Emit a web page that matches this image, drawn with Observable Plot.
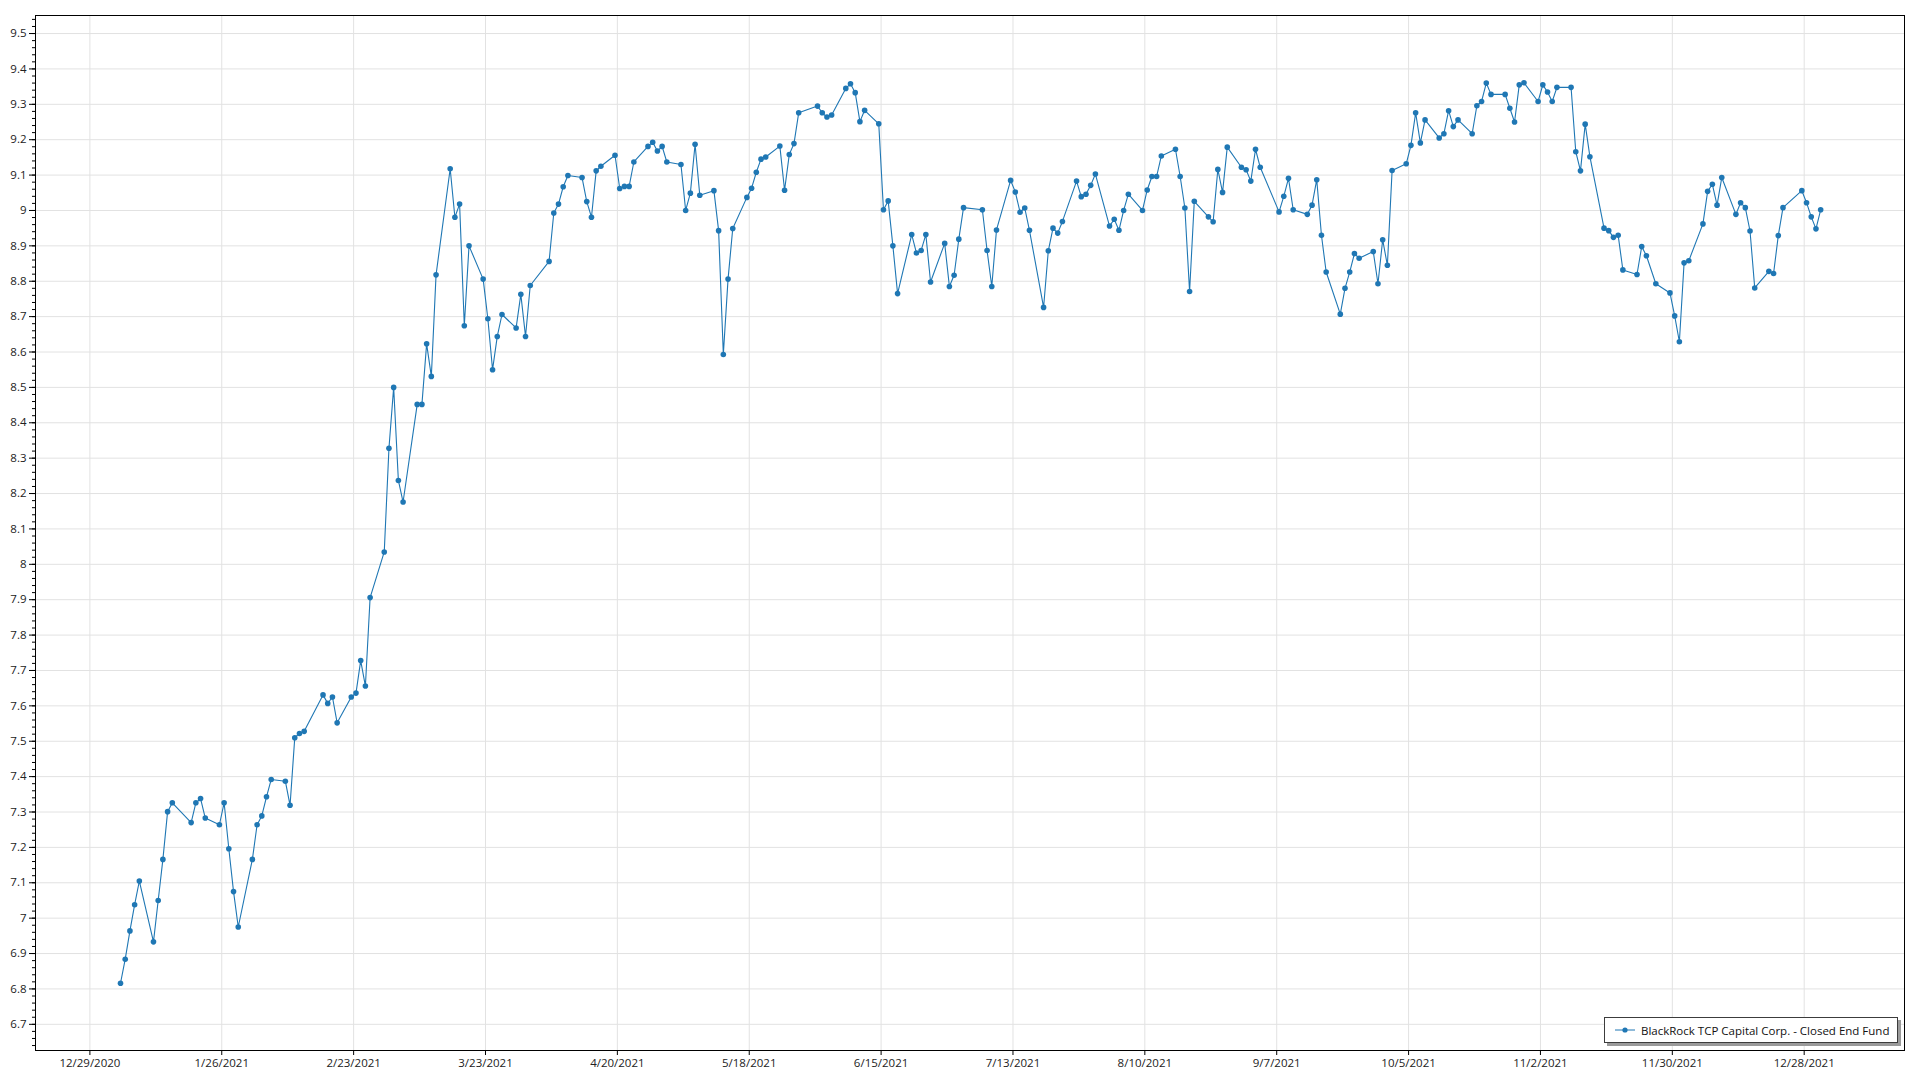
<!DOCTYPE html>
<html>
<head>
<meta charset="utf-8">
<script src="https://cdn.jsdelivr.net/npm/d3@7"></script>
<script src="https://cdn.jsdelivr.net/npm/@observablehq/plot@0.6"></script>
<style>
html, body { margin: 0; padding: 0; background: #fff; }
#wrap { position: relative; width: 1920px; height: 1080px; overflow: hidden; }
#legend {
  position: absolute; left: 1604px; top: 1017px; width: 294px; height: 26px;
  box-sizing: border-box; border: 1px solid #3c3c3c; background: #fff;
  box-shadow: 3px 3px 0 #9a9a9a; display: flex; align-items: center;
  font: 11.5px "Open Sans", sans-serif; color: #111; white-space: nowrap;
}
#legend svg { margin-left: 10px; margin-right: 6px; }
</style>
</head>
<body>
<div id="wrap"></div>
<script>
const seriesName = "BlackRock TCP Capital Corp. - Closed End Fund";

const dates = [
  "2021-01-04","2021-01-05","2021-01-06","2021-01-07","2021-01-08","2021-01-11","2021-01-12","2021-01-13","2021-01-14","2021-01-15",
  "2021-01-19","2021-01-20","2021-01-21","2021-01-22","2021-01-25","2021-01-26","2021-01-27","2021-01-28","2021-01-29",
  "2021-02-01","2021-02-02","2021-02-03","2021-02-04","2021-02-05","2021-02-08","2021-02-09","2021-02-10","2021-02-11","2021-02-12",
  "2021-02-16","2021-02-17","2021-02-18","2021-02-19","2021-02-22","2021-02-23","2021-02-24","2021-02-25","2021-02-26",
  "2021-03-01","2021-03-02","2021-03-03","2021-03-04","2021-03-05","2021-03-08","2021-03-09","2021-03-10","2021-03-11","2021-03-12",
  "2021-03-15","2021-03-16","2021-03-17","2021-03-18","2021-03-19","2021-03-22","2021-03-23","2021-03-24","2021-03-25","2021-03-26",
  "2021-03-29","2021-03-30","2021-03-31","2021-04-01",
  "2021-04-05","2021-04-06","2021-04-07","2021-04-08","2021-04-09","2021-04-12","2021-04-13","2021-04-14","2021-04-15","2021-04-16",
  "2021-04-19","2021-04-20","2021-04-21","2021-04-22","2021-04-23","2021-04-26","2021-04-27","2021-04-28","2021-04-29","2021-04-30",
  "2021-05-03","2021-05-04","2021-05-05","2021-05-06","2021-05-07","2021-05-10","2021-05-11","2021-05-12","2021-05-13","2021-05-14",
  "2021-05-17","2021-05-18","2021-05-19","2021-05-20","2021-05-21","2021-05-24","2021-05-25","2021-05-26","2021-05-27","2021-05-28",
  "2021-06-01","2021-06-02","2021-06-03","2021-06-04","2021-06-07","2021-06-08","2021-06-09","2021-06-10","2021-06-11",
  "2021-06-14","2021-06-15","2021-06-16","2021-06-17","2021-06-18","2021-06-21","2021-06-22","2021-06-23","2021-06-24","2021-06-25",
  "2021-06-28","2021-06-29","2021-06-30","2021-07-01","2021-07-02",
  "2021-07-06","2021-07-07","2021-07-08","2021-07-09","2021-07-12","2021-07-13","2021-07-14","2021-07-15","2021-07-16",
  "2021-07-19","2021-07-20","2021-07-21","2021-07-22","2021-07-23","2021-07-26","2021-07-27","2021-07-28","2021-07-29","2021-07-30",
  "2021-08-02","2021-08-03","2021-08-04","2021-08-05","2021-08-06","2021-08-09","2021-08-10","2021-08-11","2021-08-12","2021-08-13",
  "2021-08-16","2021-08-17","2021-08-18","2021-08-19","2021-08-20","2021-08-23","2021-08-24","2021-08-25","2021-08-26","2021-08-27",
  "2021-08-30","2021-08-31","2021-09-01","2021-09-02","2021-09-03",
  "2021-09-07","2021-09-08","2021-09-09","2021-09-10","2021-09-13","2021-09-14","2021-09-15","2021-09-16","2021-09-17",
  "2021-09-20","2021-09-21","2021-09-22","2021-09-23","2021-09-24","2021-09-27","2021-09-28","2021-09-29","2021-09-30","2021-10-01",
  "2021-10-04","2021-10-05","2021-10-06","2021-10-07","2021-10-08","2021-10-11","2021-10-12","2021-10-13","2021-10-14","2021-10-15",
  "2021-10-18","2021-10-19","2021-10-20","2021-10-21","2021-10-22","2021-10-25","2021-10-26","2021-10-27","2021-10-28","2021-10-29",
  "2021-11-01","2021-11-02","2021-11-03","2021-11-04","2021-11-05","2021-11-08","2021-11-09","2021-11-10","2021-11-11","2021-11-12",
  "2021-11-15","2021-11-16","2021-11-17","2021-11-18","2021-11-19","2021-11-22","2021-11-23","2021-11-24","2021-11-26",
  "2021-11-29","2021-11-30","2021-12-01","2021-12-02","2021-12-03","2021-12-06","2021-12-07","2021-12-08","2021-12-09","2021-12-10",
  "2021-12-13","2021-12-14","2021-12-15","2021-12-16","2021-12-17","2021-12-20","2021-12-21","2021-12-22","2021-12-23",
  "2021-12-27","2021-12-28","2021-12-29","2021-12-30","2021-12-31"
];

const prices = [
  6.816,6.884,6.964,7.038,7.105,6.933,7.050,7.166,7.301,7.326,
  7.270,7.326,7.338,7.283,7.264,7.326,7.196,7.075,6.975,
  7.166,7.264,7.289,7.343,7.392,7.387,7.319,7.510,7.522,7.528,
  7.631,7.607,7.625,7.552,7.625,7.636,7.728,7.656,7.906,
  8.035,8.328,8.500,8.237,8.176,8.452,8.452,8.623,8.531,8.818,
  9.118,8.981,9.018,8.674,8.900,8.806,8.694,8.550,8.644,8.706,
  8.668,8.763,8.644,8.788,
  8.856,8.993,9.018,9.067,9.099,9.093,9.025,8.981,9.112,9.125,
  9.156,9.062,9.068,9.068,9.137,9.181,9.193,9.168,9.181,9.137,
  9.130,9.000,9.049,9.187,9.043,9.056,8.943,8.593,8.806,8.949,
  9.037,9.063,9.108,9.145,9.151,9.182,9.057,9.158,9.189,9.276,
  9.295,9.276,9.264,9.270,9.345,9.358,9.333,9.251,9.283,
  9.245,9.002,9.027,8.900,8.765,8.932,8.880,8.887,8.932,8.798,
  8.907,8.785,8.817,8.919,9.008,
  9.002,8.887,8.785,8.945,9.085,9.052,8.995,9.007,8.944,
  8.726,8.886,8.950,8.936,8.969,9.083,9.039,9.046,9.071,9.103,
  8.956,8.975,8.944,9.000,9.046,9.000,9.058,9.096,9.096,9.154,
  9.173,9.096,9.007,8.771,9.026,8.982,8.968,9.116,9.051,9.179,
  9.122,9.115,9.083,9.173,9.122,
  8.996,9.040,9.091,9.002,8.989,9.015,9.087,8.930,8.826,
  8.707,8.780,8.826,8.878,8.865,8.884,8.793,8.917,8.845,9.113,
  9.132,9.184,9.276,9.191,9.256,9.205,9.217,9.282,9.237,9.256,
  9.217,9.296,9.308,9.360,9.328,9.328,9.289,9.250,9.355,9.361,
  9.308,9.355,9.335,9.308,9.348,9.348,9.166,9.112,9.244,9.152,
  8.950,8.943,8.924,8.930,8.832,8.819,8.898,8.872,8.793,
  8.767,8.702,8.629,8.852,8.858,8.962,9.054,9.074,9.015,9.093,
  8.989,9.022,9.008,8.942,8.781,8.828,8.822,8.929,9.008,
  9.056,9.022,8.982,8.948,9.002
];

const xTickDates = ["2020-12-29","2021-01-26","2021-02-23","2021-03-23","2021-04-20","2021-05-18","2021-06-15",
  "2021-07-13","2021-08-10","2021-09-07","2021-10-05","2021-11-02","2021-11-30","2021-12-28"];

const yTickValues = [6.7,6.8,6.9,7,7.1,7.2,7.3,7.4,7.5,7.6,7.7,7.8,7.9,8,8.1,8.2,8.3,8.4,8.5,8.6,8.7,8.8,8.9,9,9.1,9.2,9.3,9.4,9.5];

const data = dates.map((d, i) => ({date: new Date(d + "T12:00:00Z"), price: prices[i]}));
const xTicks = xTickDates.map(d => new Date(d + "T00:00:00Z"));
const yMinor = d3.range(0, 146).map(i => +(6.64 + i * 0.02).toFixed(2));

const DAY = 864e5, t0 = Date.UTC(2020, 11, 29);
const color = "#1f77b4";

const chart = Plot.plot({
  width: 1920,
  height: 1080,
  marginLeft: 35,
  marginRight: 16,
  marginTop: 15,
  marginBottom: 30,
  style: {fontFamily: '"Open Sans", sans-serif', fontSize: "11.5px", color: "#222", background: "#fff", overflow: "visible"},
  x: {type: "utc", domain: [new Date(t0 - 11.55 * DAY), new Date(t0 + 385.3 * DAY)]},
  y: {domain: [6.626, 9.551]},
  marks: [
    Plot.gridX(xTicks, {stroke: "#e2e2e2", strokeOpacity: 1}),
    Plot.gridY(yTickValues, {stroke: "#e2e2e2", strokeOpacity: 1}),
    Plot.axisY(yMinor, {tickSize: 3, tickFormat: () => "", label: null, stroke: "#000"}),
    Plot.axisY(yTickValues, {tickSize: 6, tickPadding: 3, tickFormat: d3.format(""), label: null, stroke: "#000"}),
    Plot.axisX(xTicks, {tickSize: 5, tickPadding: 3, tickFormat: d3.utcFormat("%-m/%-d/%Y"), label: null, stroke: "#000"}),
    Plot.line(data, {x: "date", y: "price", stroke: color, strokeWidth: 1.1}),
    Plot.dot(data, {x: "date", y: "price", r: 2.8, fill: color, stroke: "none"}),
    Plot.frame({stroke: "#000", strokeWidth: 1})
  ]
});

const wrap = document.getElementById("wrap");
wrap.appendChild(chart);

const legend = document.createElement("div");
legend.id = "legend";
legend.innerHTML = `<svg width="20" height="8"><line x1="0" y1="4" x2="20" y2="4" stroke="${color}" stroke-width="1"/><circle cx="10" cy="4" r="2.6" fill="${color}"/></svg><span></span>`;
legend.querySelector("span").textContent = seriesName;
wrap.appendChild(legend);
</script>
</body>
</html>
